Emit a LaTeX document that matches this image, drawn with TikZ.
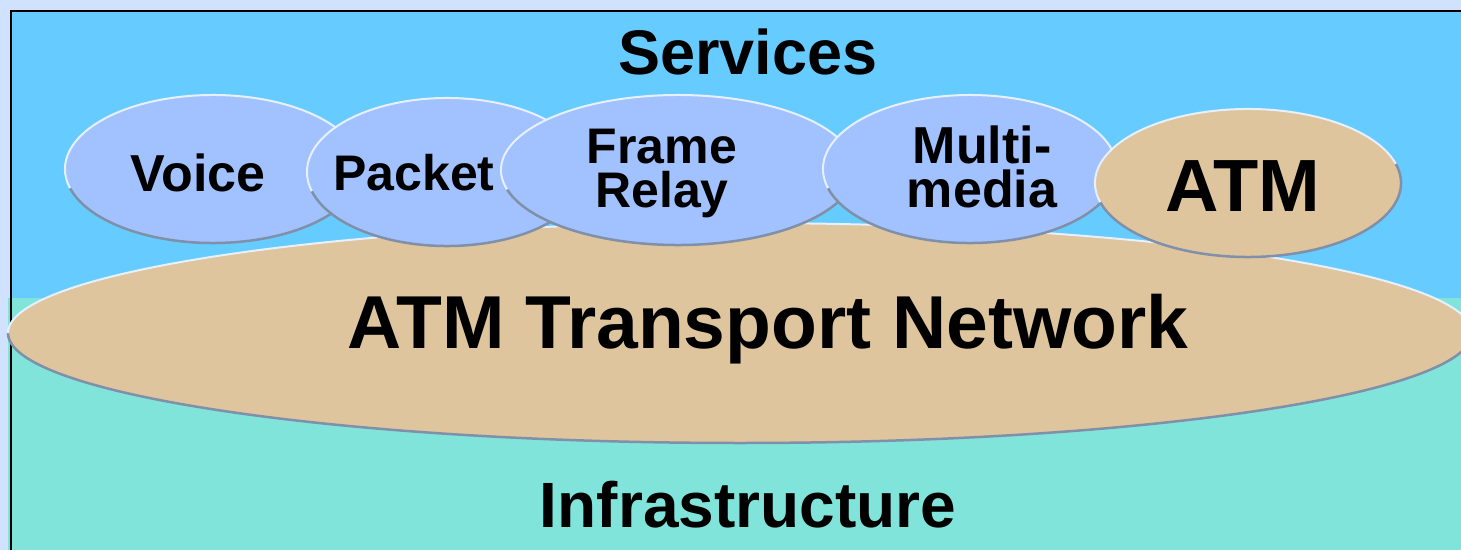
\documentclass[tikz,border=0pt]{standalone}
\usepackage{fontspec}
\setmainfont{Liberation Sans}
\usepackage{tikz}

\definecolor{pagebg}{HTML}{D0E2FF}
\definecolor{skyblue}{HTML}{66CCFF}
\definecolor{groundteal}{HTML}{80E4DA}
\definecolor{netbeige}{HTML}{DEC59E}
\definecolor{svcblue}{HTML}{A2C2FF}
\definecolor{rimlight}{HTML}{E6F0FF}
\definecolor{rimdark}{HTML}{8090A8}

\begin{document}
\begin{tikzpicture}[
    x=1pt, y=1pt,
    headtext/.style={
        % Font
        font=\fontsize{#1}{#1}\selectfont\bfseries,
        inner sep=0pt,
        anchor=base
    },
    svctext/.style={
        font=\fontsize{#1}{44}\selectfont\bfseries,
        align=center,
        inner sep=0pt,
        anchor=base
    },
    rimtop/.style={draw=rimlight, line width=2pt},
    rimbottom/.style={draw=rimdark, line width=2.5pt}]

    \useasboundingbox (0,0) rectangle (1461,550);

    % The background and the two layers
    \fill[pagebg] (0,0) rectangle (1461,550);
    \fill[skyblue] (11,252) rectangle (1461,539);
    \fill[groundteal] (8,0) rectangle (1461,252);
    \draw[black, line width=2pt] (11,0) -- (11,539) -- (1461,539);

    % The transport network
    \fill[netbeige] (740,217) ellipse [x radius=732, y radius=110];
    \draw[rimbottom] (740,217) ++(180:732 and 110)
        arc [start angle=180, end angle=360, x radius=732, y radius=110];
    \draw[rimtop] (740,217) ++(0:732 and 110)
        arc [start angle=0, end angle=180, x radius=732, y radius=110];

    % The services
    \foreach \cx/\cy/\rx/\ry/\tint in {213/381/148/74/svcblue, 447/378/140/74/svcblue,
        678/380/177/75/svcblue, 970/381/147/74/svcblue, 1248/367/153/74/netbeige}
    {
        \fill[\tint] (\cx,\cy) ellipse [x radius=\rx, y radius=\ry];
        \draw[rimbottom] (\cx,\cy) ++(195:{\rx} and {\ry})
            arc [start angle=195, end angle=375, x radius=\rx, y radius=\ry];
        \draw[rimtop] (\cx,\cy) ++(15:{\rx} and {\ry})
            arc [start angle=15, end angle=195, x radius=\rx, y radius=\ry];
    }

    \node[headtext=63] (services) at (748,475) {Services};
    \node[headtext=75] (network) at (768,202) {ATM Transport Network};
    \node[headtext=64] (infra) at (748,23) {Infrastructure};

    \node[headtext=52] (voice) at (198,359) {Voice};
    \node[headtext=50] (packet) at (414,360) {Packet};
    \node[svctext=50] (relay) at (662,343) {Frame\\Relay};
    \node[svctext=52] (multi) at (982,343) {Multi-\\media};
    \node[headtext=74] (atm) at (1243,339) {ATM};
\end{tikzpicture}
\end{document}
